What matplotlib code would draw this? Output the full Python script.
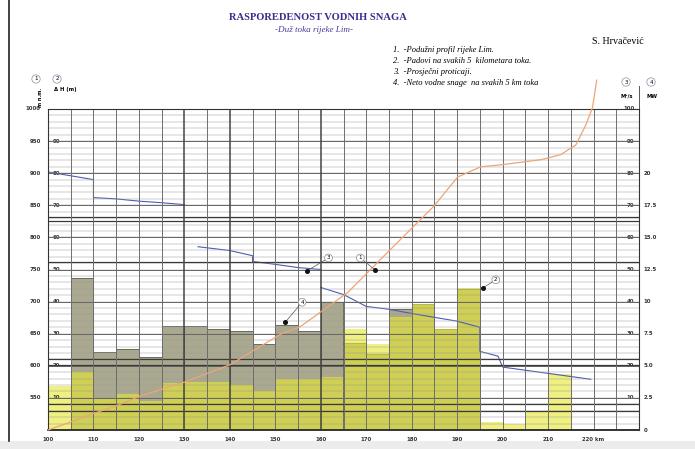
import numpy as np
import matplotlib
matplotlib.use("Agg")
import matplotlib.pyplot as plt
from matplotlib.lines import Line2D
from matplotlib.patches import Rectangle

W, H = 695, 449

# 5 km segments (start km) along the river
SEG_KM = [100, 105, 110, 115, 120, 125, 130, 135, 140, 145, 150, 155,
          160, 165, 170, 175, 180, 185, 190, 195, 200, 205, 210, 215]
# (2) falls on every 5 km (m)
FALLS = [13.7, 18.0, 9.6, 11.2, 9.0, 14.6, 14.9, 14.9, 14.0, 12.1, 15.8, 15.8,
         16.5, 31.4, 26.7, 35.1, 39.1, 31.4, 44.1, 2.5, 1.9, 5.6, 17.4, 0.0]
# (4) net water power on every 5 km (MW)
POWER = [0.0, 11.8, 6.05, 6.3, 5.7, 8.1, 8.1, 7.85, 7.7, 6.7, 8.2, 7.7,
         10.0, 6.8, 5.9, 9.4, 9.8, 7.9, 11.0, 0.0, 0.0, 0.0, 0.0, 0.0]

# (1) longitudinal profile (m a.s.l.)
PROFILE_KM = [100, 104.8, 109.7, 114.8, 120.3, 130.2, 140.1, 151.1, 155.5, 165.9,
              176.0, 184.8, 190.1, 195.2, 199.6, 208.4, 212.8, 216.1, 218.3, 219.8, 220.7]
PROFILE_H = [500, 512, 525, 537, 553, 575, 602, 649, 661, 714,
             786, 848, 894, 910, 913, 921, 929, 944, 975, 1003, 1045]

# (3) mean discharge (m3/s), three pieces
FLOW_A_KM = [100, 105, 110, 110, 115, 120, 125, 130]
FLOW_A_Q = [80.4, 79.2, 78.0, 72.4, 72.0, 71.3, 70.8, 70.2]
FLOW_B_KM = [133, 140, 145, 145, 150, 155, 160]
FLOW_B_Q = [57.1, 55.9, 54.3, 52.5, 51.6, 50.6, 50.0]
FLOW_C_KM = [160, 165, 170, 175, 180, 185, 190, 195, 195, 199, 200, 219.4]
FLOW_C_Q = [44.4, 42.2, 38.5, 37.6, 36.3, 35.1, 33.9, 32.0, 24.5, 23.0, 19.6, 15.8]

ELEV_TICKS = [550, 600, 650, 700, 750, 800, 850, 900, 950, 1000]
DH_TICKS = [10, 20, 30, 40, 50, 60, 70, 80, 90]
Q_TICKS = [10, 20, 30, 40, 50, 60, 70, 80, 90, 100]
MW_TICKS = [0, 2.5, 5.0, 7.5, 10, 12.5, 15.0, 17.5, 20]
KM_TICKS = [100, 110, 120, 130, 140, 150, 160, 170, 180, 190, 200, 210, 220]

# leader marks: (label, dot km, dot elevation, label km, label elevation)
MARKS = [("1", 172.0, 749, 168.7, 768),
         ("2", 195.6, 721, 198.5, 734),
         ("3", 157.0, 748, 161.7, 768),
         ("4", 152.2, 668, 155.9, 699)]

SERIF = ["Liberation Serif", "DejaVu Serif"]
GREY = "#aaa88e"
YELLOW = "#e6e830"
BLUE = "#4c5cb4"
ORANGE = "#eba57a"


def px(x, y):
    return x / W, 1 - y / H


fig = plt.figure(figsize=(W / 100, H / 100), dpi=100)
fig.patch.set_facecolor("white")
ax = fig.add_axes([48 / W, 1 - 430 / H, (639 - 48) / W, (430 - 109) / H])
axp = ax.twinx()
axq = ax.twinx()
ax.set_zorder(3)
axq.set_zorder(2)
axp.set_zorder(1)
ax.patch.set_visible(False)
axq.patch.set_visible(False)

ax.set_xlim(100, 230)
ax.set_ylim(500, 1000)
axq.set_ylim(0, 100)
axp.set_ylim(0, 25)

for a in (ax, axp, axq):
    a.tick_params(left=False, right=False, bottom=False, top=False,
                  labelleft=False, labelright=False, labelbottom=False)
for a in (axp, axq):
    for s in a.spines.values():
        s.set_visible(False)
for side, s in ax.spines.items():
    s.set_color("#333333")
    s.set_linewidth(0.8)
ax.spines["bottom"].set_linewidth(1.4)

# bars
axp.bar(SEG_KM, POWER, width=5, align="edge", color=GREY, edgecolor="#5a5a50", linewidth=0.6)
axq.bar(SEG_KM, FALLS, width=5, align="edge", color=YELLOW, alpha=0.62, linewidth=0)

# discharge
for xs, ys in ((FLOW_A_KM, FLOW_A_Q), (FLOW_B_KM, FLOW_B_Q), (FLOW_C_KM, FLOW_C_Q)):
    axq.plot(xs, ys, color=BLUE, lw=0.8, zorder=5)

# grid
for e in range(500, 1001, 10):
    ax.axhline(e, color="#9c9c9c", lw=0.35, zorder=1)
for e in range(500, 1001, 50):
    ax.axhline(e, color="#666666", lw=0.7, zorder=1)
for e in [831, 825, 761, 610, 602, 540, 530]:
    ax.axhline(e, color="#3a3a3a", lw=0.9, zorder=1)
for k in range(105, 230, 5):
    thick = k in (130, 140, 160)
    ax.axvline(k, color="#444444" if thick else "#6e6e6e", lw=1.1 if thick else 0.7, zorder=1)

# profile
ax.plot(PROFILE_KM, PROFILE_H, color=ORANGE, lw=0.9, zorder=4, clip_on=False)

# leader marks
for label, xk, yk, lx, ly in MARKS:
    ax.plot([xk, lx], [yk, ly], color="#555555", lw=0.5, zorder=6)
    ax.plot(xk, yk, "o", color="#111111", ms=2.6, zorder=7)
    ax.text(lx, ly, label, fontsize=4, ha="center", va="center", zorder=8,
            bbox=dict(boxstyle="circle,pad=0.25", fc="white", ec="#888888", lw=0.5))

# axis labels
tl = dict(fontsize=3.9, fontweight="bold", color="#333333")
ya = ax.get_yaxis_transform()
for e in ELEV_TICKS:
    ax.text(-0.012, e, str(e), transform=ya, ha="right", va="center", **tl)
yq = axq.get_yaxis_transform()
for v in DH_TICKS:
    axq.text(0.008, v, str(v), transform=yq, ha="left", va="center", **tl)
for v in Q_TICKS:
    axq.text(0.992, v, str(v), transform=yq, ha="right", va="center", **tl)
yp = axp.get_yaxis_transform()
for v in MW_TICKS:
    axp.text(1.008, v, f"{v:g}" if v in (0, 10, 20) else f"{v:.1f}", transform=yp,
             ha="left", va="center", **tl)
xa = ax.get_xaxis_transform()
for k in KM_TICKS:
    ax.text(k, -0.022, f"{k} km" if k == 220 else str(k), transform=xa,
            ha="center", va="top", **tl)

# headers over the axes
circ = dict(boxstyle="circle,pad=0.3", fc="white", ec="#8a8aa8", lw=0.5)
for n, (x, y) in zip("1234", [(36, 79), (57, 79), (626, 82), (651, 82)]):
    fig.text(*px(x, y), n, fontsize=4, ha="center", va="center", bbox=circ)
fig.text(*px(41, 97), "m n.m.", fontsize=3.5, fontweight="bold", rotation=90, ha="center", va="center")
fig.text(*px(54, 89), "Δ H (m)", fontsize=3.8, fontweight="bold", ha="left", va="center")
fig.text(*px(627, 96), "M³/s", fontsize=3.8, fontweight="bold", ha="center", va="center")
fig.text(*px(652, 96), "MW", fontsize=3.8, fontweight="bold", ha="center", va="center")
fig.add_artist(Line2D([639 / W, 639 / W], [1 - 109 / H, 1 - 86 / H], color="#555555", lw=0.7))

# titles and legend
fig.text(*px(318, 17), "RASPOREDENOST VODNIH SNAGA", family=SERIF, fontsize=7.6,
         fontweight="bold", color="#3b2e8c", ha="center", va="center")
fig.text(*px(314, 30), "-Duž toka rijeke Lim-", family=SERIF, fontsize=6.6,
         style="italic", color="#4a3c9a", ha="center", va="center")
fig.text(*px(618, 41), "S. Hrvačević", family=SERIF, fontsize=7.2, ha="center", va="center")
legend_lines = ["1.  -Podužni profil rijeke Lim.",
                "2.  -Padovi na svakih 5  kilometara toka.",
                "3.  -Prosječni proticaji.",
                "4.  -Neto vodne snage  na svakih 5 km toka"]
for i, line in enumerate(legend_lines):
    fig.text(*px(393, 50 + i * 11), line, family=SERIF, fontsize=6.1,
             style="italic", ha="left", va="center")

# page edges of the scan
fig.add_artist(Line2D([9 / W, 9 / W], [1 - 441 / H, 1], color="#222222", lw=1.2))
fig.add_artist(Rectangle((0, 0), 1, 8 / H, transform=fig.transFigure, fc="#ececec", ec="none"))

fig.savefig("out.png", dpi=100)
